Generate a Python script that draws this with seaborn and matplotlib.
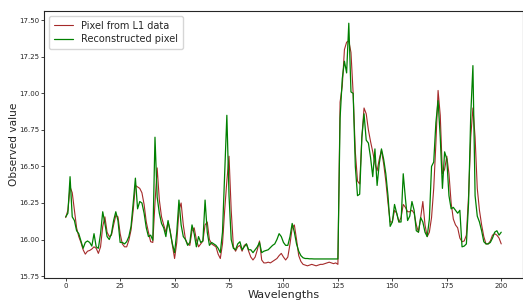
import numpy as np
import pandas as pd
import matplotlib
matplotlib.use("Agg")
import matplotlib.pyplot as plt
import seaborn as sns

sns.set_style("ticks")
plt.rcParams['font.family'] = ['DejaVu Sans']

# Observed pixel from L1 data (one value per wavelength band)
l1_pixel = [
    16.15, 16.20, 16.36, 16.32, 16.20, 16.08, 16.02, 15.98, 15.93, 15.90,
    15.92, 15.925, 15.935, 15.95, 15.94, 15.905, 15.95, 16.09, 16.155, 16.05,
    16.02, 16.03, 16.10, 16.165, 16.155, 16.04, 15.97, 15.95, 15.95, 15.995,
    16.065, 16.20, 16.37, 16.36, 16.35, 16.32, 16.24, 16.12, 16.05, 15.985,
    15.98, 16.25, 16.49, 16.27, 16.155, 16.10, 16.05, 16.12, 16.06, 15.96,
    15.87, 15.98, 16.20, 16.25, 16.10, 16.00, 15.97, 15.96, 16.06, 16.08,
    16.00, 15.95, 15.97, 15.99, 16.10, 16.12, 16.00, 15.97, 15.96, 15.95,
    15.90, 15.87, 15.97, 16.20, 16.40, 16.57, 16.20, 15.95, 15.92, 15.95,
    15.96, 15.92, 15.96, 15.97, 15.92, 15.88, 15.86, 15.88, 15.93, 15.99,
    15.86, 15.84, 15.84, 15.845, 15.84, 15.85, 15.86, 15.87, 15.89, 15.905,
    15.88, 15.86, 15.88, 15.97, 16.08, 16.10, 16.00, 15.89, 15.85, 15.83,
    15.825, 15.82, 15.825, 15.83, 15.825, 15.82, 15.825, 15.83, 15.83, 15.835,
    15.84, 15.845, 15.84, 15.835, 15.84, 15.83, 16.94, 17.05, 17.30, 17.35,
    17.36, 17.28, 17.00, 16.60, 16.40, 16.38, 16.70, 16.90, 16.86, 16.75,
    16.67, 16.60, 16.52, 16.47, 16.55, 16.61, 16.52, 16.40, 16.25, 16.12,
    16.12, 16.20, 16.18, 16.12, 16.15, 16.24, 16.22, 16.19, 16.19, 16.20,
    16.18, 16.10, 16.05, 16.15, 16.26, 16.10, 16.02, 16.05, 16.15, 16.35,
    16.66, 17.02, 16.85, 16.45, 16.48, 16.57, 16.45, 16.25, 16.14, 16.10,
    16.08, 16.01, 15.985, 15.99, 16.03, 16.30, 16.70, 16.90, 16.70, 16.35,
    16.20, 16.10, 16.02, 15.97, 15.97, 15.99, 16.03, 16.04, 16.03, 16.01,
    15.97,
]

# Reconstructed pixel
reconstructed = [
    16.155, 16.18, 16.43, 16.155, 16.13, 16.06, 16.04, 15.99, 15.94, 15.98,
    15.99, 15.98, 15.955, 16.04, 15.95, 15.94, 16.04, 16.19, 16.11, 16.02,
    16.00, 16.04, 16.13, 16.19, 16.13, 15.98, 15.98, 15.97, 15.985, 16.02,
    16.09, 16.25, 16.42, 16.21, 16.26, 16.25, 16.18, 16.08, 16.02, 16.03,
    15.995, 16.70, 16.29, 16.18, 16.11, 16.08, 16.02, 16.13, 16.05, 15.97,
    15.91, 16.05, 16.27, 16.10, 16.02, 16.00, 15.96, 15.98, 16.10, 16.04,
    15.95, 16.02, 15.98, 15.99, 16.27, 16.05, 15.96, 15.98, 15.97, 15.96,
    15.94, 15.91, 16.05, 16.45, 16.85, 16.30, 16.00, 15.94, 15.93, 15.97,
    15.985, 15.93, 15.95, 15.97, 15.93, 15.93, 15.91, 15.93, 15.95, 15.98,
    15.91, 15.92, 15.925, 15.93, 15.945, 15.96, 15.97, 16.00, 16.04, 16.02,
    15.98, 15.96, 15.96, 16.02, 16.11, 16.05, 15.97, 15.92, 15.89, 15.875,
    15.87, 15.87, 15.868, 15.868, 15.867, 15.867, 15.867, 15.867, 15.867, 15.867,
    15.867, 15.867, 15.867, 15.867, 15.867, 15.867, 16.83, 17.10, 17.22, 17.14,
    17.48, 17.01, 17.00, 16.50, 16.30, 16.31, 16.70, 16.86, 16.68, 16.66,
    16.56, 16.43, 16.62, 16.37, 16.52, 16.62, 16.55, 16.45, 16.30, 16.09,
    16.12, 16.24, 16.18, 16.12, 16.12, 16.45, 16.28, 16.13, 16.16, 16.26,
    16.20, 16.06, 16.05, 16.15, 16.12, 16.05, 16.02, 16.14, 16.50, 16.53,
    16.80, 16.95, 16.70, 16.35, 16.60, 16.55, 16.30, 16.21, 16.22, 16.20,
    16.18, 16.20, 15.95, 15.955, 15.97, 16.25, 16.85, 17.19, 16.30, 16.16,
    16.12, 16.06, 15.985, 15.97, 15.97, 15.98, 16.01, 16.05, 16.06, 16.03,
    16.05,
]

wavelengths = np.arange(len(l1_pixel))

df = pd.DataFrame({
    "Wavelengths": wavelengths,
    "Pixel from L1 data": l1_pixel,
    "Reconstructed pixel": reconstructed,
})

fig = plt.figure(figsize=(5.23, 3.0), dpi=100)
ax = fig.add_axes([0.084, 0.073, 0.916, 0.89])

sns.lineplot(x="Wavelengths", y="Pixel from L1 data", data=df, ax=ax,
             color="#a52a2a", linewidth=0.8, label="Pixel from L1 data")
sns.lineplot(x="Wavelengths", y="Reconstructed pixel", data=df, ax=ax,
             color="green", linewidth=0.9, label="Reconstructed pixel")

ax.set_xlim(-10, 210)
ax.set_ylim(15.736, 17.563)
ax.set_xticks([0, 25, 50, 75, 100, 125, 150, 175, 200])
ax.set_yticks([15.75, 16.00, 16.25, 16.50, 16.75, 17.00, 17.25, 17.50])
ax.yaxis.set_major_formatter(matplotlib.ticker.FormatStrFormatter('%.2f'))
ax.tick_params(labelsize=5, length=2, width=0.6, pad=1.5)
for s in ax.spines.values():
    s.set_linewidth(0.8)

ax.set_xlabel("Wavelengths", fontsize=8, labelpad=1)
ax.set_ylabel("Observed value", fontsize=7.6, labelpad=0)
ax.legend(loc="upper left", fontsize=7, handlelength=2.0, borderpad=0.5,
          labelspacing=0.35, frameon=True)

fig.savefig("out.png", dpi=100)
